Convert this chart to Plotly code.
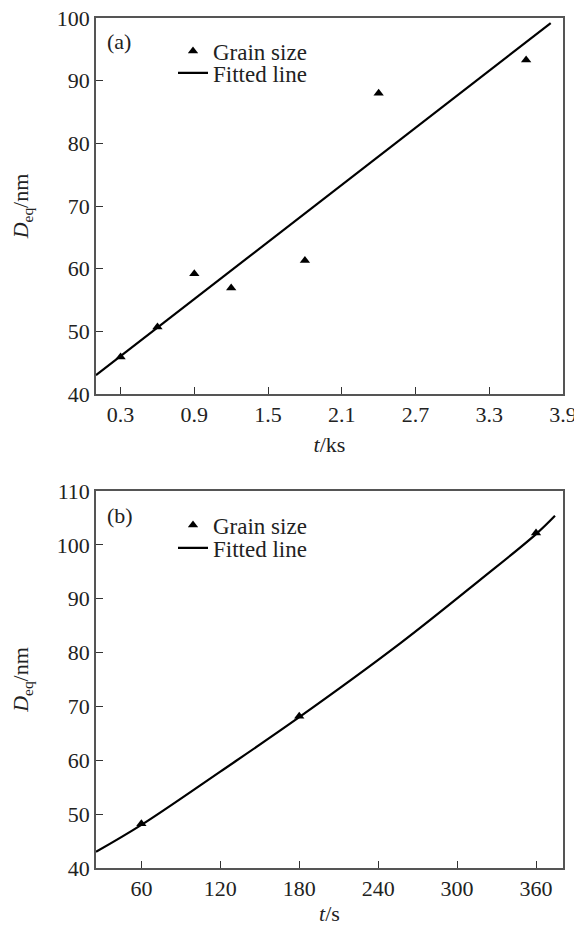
import plotly.graph_objects as go

# Panel (a)
a_t = [0.3, 0.6, 0.9, 1.2, 1.8, 2.4, 3.6]
a_D = [45.9, 50.7, 59.2, 56.9, 61.3, 88.0, 93.3]
a_fit_t = [0.1, 3.8]
a_fit_D = [43.0, 99.2]
a_xticks = [0.3, 0.9, 1.5, 2.1, 2.7, 3.3, 3.9]
a_yticks = [40, 50, 60, 70, 80, 90, 100]

# Panel (b)
b_t = [60, 180, 360]
b_D = [48.2, 68.2, 102.2]
b_fit_t = [25.5, 60, 120, 180, 256.7, 317.5, 360, 374.4]
b_fit_D = [43.0, 48.0, 57.9, 68.0, 81.7, 93.5, 102.0, 105.4]
b_xticks = [60, 120, 180, 240, 300, 360]
b_yticks = [40, 50, 60, 70, 80, 90, 100, 110]

FONT = "Liberation Serif, Times New Roman, DejaVu Serif, serif"
W, H = 574, 926
ml, mr, mt, mb = 96, 574 - 563, 18, 926 - 868
ph = H - mt - mb
pw = W - ml - mr
top_dom = [(868 - 394) / ph, 1.0]
bot_dom = [0.0, (868 - 491) / ph]


def px(page_x):
    return (page_x - ml) / pw


def py(page_y):
    return 1 - (page_y - mt) / ph


fig = go.Figure()

fig.add_trace(go.Scatter(x=a_t, y=a_D, mode="markers", name="Grain size",
                         marker=dict(symbol="triangle-up", size=9, color="black"),
                         xaxis="x", yaxis="y", legend="legend"))
fig.add_trace(go.Scatter(x=a_fit_t, y=a_fit_D, mode="lines", name="Fitted line",
                         line=dict(color="black", width=2.2),
                         xaxis="x", yaxis="y", legend="legend3"))
fig.add_trace(go.Scatter(x=b_t, y=b_D, mode="markers", name="Grain size",
                         marker=dict(symbol="triangle-up", size=9, color="black"),
                         xaxis="x2", yaxis="y2", legend="legend2"))
fig.add_trace(go.Scatter(x=b_fit_t, y=b_fit_D, mode="lines", name="Fitted line",
                         line=dict(color="black", width=2.2, shape="spline"),
                         xaxis="x2", yaxis="y2", legend="legend4"))

axis_common = dict(showline=True, linecolor="#555555", linewidth=1.5, mirror=True,
                   ticks="inside", ticklen=7, tickwidth=1.2, tickcolor="#333333",
                   showgrid=False, zeroline=False, ticklabeloverflow="allow",
                   automargin=False,
                   tickfont=dict(family=FONT, size=22, color="#222222"),
                   title_font=dict(family=FONT, size=22, color="#222222"))


def leg(page_x, page_y):
    return dict(x=px(page_x), xanchor="left", y=py(page_y), yanchor="middle",
                bgcolor="rgba(0,0,0,0)", borderwidth=0,
                font=dict(family=FONT, size=23, color="#222222"),
                tracegroupgap=0, itemwidth=30)


fig.update_layout(
    template="none",
    width=W, height=H,
    margin=dict(l=ml, r=mr, t=mt, b=mb, autoexpand=False),
    paper_bgcolor="white", plot_bgcolor="white",
    font=dict(family=FONT, size=22, color="#222222"),
    xaxis=dict(axis_common, domain=[0, 1], anchor="y", range=[0.1, 3.9001],
               tickvals=a_xticks, ticktext=[f"{v:.1f}" for v in a_xticks],
               title=dict(text="<i>t</i>/ks", standoff=10)),
    yaxis=dict(axis_common, domain=top_dom, anchor="x", range=[40, 100.001],
               tickvals=a_yticks,
               title=dict(text="<i>D</i><sub>eq</sub>/nm", standoff=22)),
    xaxis2=dict(axis_common, domain=[0, 1], anchor="y2", range=[25.5, 380.5],
                tickvals=b_xticks,
                title=dict(text="<i>t</i>/s", standoff=10)),
    yaxis2=dict(axis_common, domain=bot_dom, anchor="x2", range=[40, 110.001],
                tickvals=b_yticks,
                title=dict(text="<i>D</i><sub>eq</sub>/nm", standoff=22)),
    legend=leg(173, 51),
    legend3=leg(173, 73),
    legend2=leg(173, 525),
    legend4=leg(173, 548),
    showlegend=True,
    annotations=[
        dict(text="(a)", xref="x domain", yref="y domain", x=(105 - 96) / (563 - 96),
             y=1 - (41.7 - 18) / (394 - 18), xanchor="left", yanchor="middle",
             showarrow=False, font=dict(family=FONT, size=22, color="#222222")),
        dict(text="(b)", xref="x2 domain", yref="y2 domain", x=(105 - 96) / (563 - 96),
             y=1 - (515 - 491) / (868 - 491), xanchor="left", yanchor="middle",
             showarrow=False, font=dict(family=FONT, size=22, color="#222222")),
    ],
)

fig.write_html("out.html", config={"displayModeBar": False},
               post_script="document.body.style.margin='0';document.body.style.overflow='hidden';")
